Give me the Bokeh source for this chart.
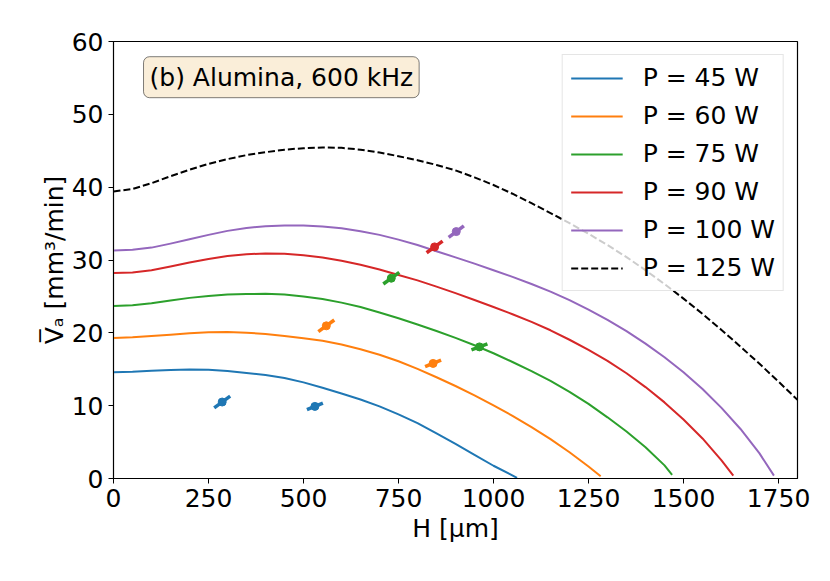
from bokeh.plotting import figure
from bokeh.models import Legend, LegendItem, Label, FixedTicker, Range1d
from bokeh.embed import file_html
from bokeh.resources import INLINE

# ---------------- data ----------------
labels = ["P = 45 W", "P = 60 W", "P = 75 W", "P = 90 W", "P = 100 W", "P = 125 W"]
colors = ["#1f77b4", "#ff7f0e", "#2ca02c", "#d62728", "#9467bd", "black"]

h45 = [0, 50, 100, 150, 200, 250, 300, 350, 400, 450, 500, 550, 600, 650, 700, 750, 800, 850, 900, 950, 1000, 1062]
v45 = [14.6, 14.65, 14.78, 14.9, 14.95, 14.92, 14.75, 14.5, 14.2, 13.8, 13.2, 12.45, 11.67, 10.85, 9.9, 8.8, 7.6, 6.2, 4.75, 3.25, 1.75, 0.1]

h60 = [0, 50, 100, 150, 200, 250, 300, 350, 400, 450, 500, 550, 600, 650, 700, 750, 800, 850, 900, 950, 1000, 1050, 1100, 1150, 1200, 1250, 1282]
v60 = [19.3, 19.38, 19.55, 19.75, 19.95, 20.07, 20.1, 20.02, 19.85, 19.58, 19.25, 18.9, 18.4, 17.75, 17.0, 16.1, 15.05, 13.9, 12.7, 11.42, 10.05, 8.6, 7.05, 5.4, 3.6, 1.65, 0.3]

h75 = [0, 50, 100, 150, 200, 250, 300, 350, 400, 450, 500, 550, 600, 650, 700, 750, 800, 850, 900, 950, 1000, 1050, 1100, 1150, 1200, 1250, 1300, 1350, 1400, 1450, 1470]
v75 = [23.7, 23.8, 24.05, 24.45, 24.8, 25.05, 25.25, 25.33, 25.35, 25.25, 25.0, 24.65, 24.15, 23.55, 22.8, 22.0, 21.15, 20.25, 19.3, 18.3, 17.2, 16.0, 14.75, 13.4, 11.9, 10.25, 8.4, 6.45, 4.3, 1.8, 0.5]

h90 = [0, 50, 100, 150, 200, 250, 300, 350, 400, 450, 500, 550, 600, 650, 700, 750, 800, 850, 900, 950, 1000, 1050, 1100, 1150, 1200, 1250, 1300, 1350, 1400, 1450, 1500, 1550, 1600, 1631]
v90 = [28.2, 28.3, 28.6, 29.1, 29.65, 30.15, 30.55, 30.8, 30.9, 30.85, 30.65, 30.35, 29.9, 29.35, 28.7, 27.95, 27.2, 26.35, 25.45, 24.5, 23.55, 22.55, 21.5, 20.35, 19.05, 17.65, 16.15, 14.45, 12.55, 10.45, 8.1, 5.5, 2.5, 0.4]

h100 = [0, 50, 100, 150, 200, 250, 300, 350, 400, 450, 500, 550, 600, 650, 700, 750, 800, 850, 900, 950, 1000, 1050, 1100, 1150, 1200, 1250, 1300, 1350, 1400, 1450, 1500, 1550, 1600, 1650, 1700, 1738]
v100 = [31.3, 31.4, 31.7, 32.25, 32.85, 33.45, 34.0, 34.4, 34.65, 34.75, 34.75, 34.6, 34.35, 33.95, 33.45, 32.8, 32.05, 31.2, 30.36, 29.5, 28.6, 27.68, 26.7, 25.65, 24.49, 23.2, 21.79, 20.23, 18.52, 16.65, 14.58, 12.28, 9.7, 6.8, 3.45, 0.4]

h125 = [0, 50, 100, 150, 200, 250, 300, 350, 400, 450, 500, 550, 600, 650, 700, 750, 800, 850, 900, 950, 1000, 1050, 1100, 1150, 1200, 1250, 1300, 1350, 1400, 1450, 1500, 1550, 1600, 1650, 1700, 1750, 1800]
v125 = [39.4, 39.75, 40.55, 41.5, 42.4, 43.2, 43.85, 44.4, 44.8, 45.15, 45.35, 45.45, 45.4, 45.15, 44.75, 44.25, 43.7, 43.05, 42.3, 41.35, 40.3, 39.1, 37.8, 36.45, 35.05, 33.6, 32.05, 30.4, 28.6, 26.7, 24.7, 22.6, 20.4, 18.1, 15.75, 13.3, 10.8]

curves_h = [h45, h60, h75, h90, h100, h125]
curves_v = [v45, v60, v75, v90, v100, v125]

# measured points with their (diagonal) error extents
pts_h = [[286, 530], [560, 841], [731, 963], [845], [902]]
pts_v = [[10.5, 9.9], [20.96, 15.8], [27.5, 18.07], [31.8], [33.9]]
err_h = [[21, 21], [21, 21], [21, 21], [21], [20]]
err_v = [[0.8, 0.45], [0.8, 0.45], [0.8, 0.42], [0.8], [0.8]]

title_text = "(b) Alumina, 600 kHz"
x_ticks = [0, 250, 500, 750, 1000, 1250, 1500, 1750]
y_ticks = [0, 10, 20, 30, 40, 50, 60]

FONT = "DejaVu Sans"

p = figure(width=814, height=565, x_range=Range1d(0, 1800), y_range=Range1d(0, 60),
           output_backend="svg", toolbar_location=None,
           min_border_left=113, min_border_top=41, min_border_right=17, min_border_bottom=87)

p.xgrid.visible = False
p.ygrid.visible = False
p.outline_line_color = "black"
p.outline_line_width = 1.2
p.background_fill_color = "white"
p.border_fill_color = "white"

for ax, ticks in ((p.xaxis, x_ticks), (p.yaxis, y_ticks)):
    ax.ticker = FixedTicker(ticks=ticks)
    ax.major_tick_out = 5
    ax.major_tick_in = 0
    ax.minor_tick_out = 0
    ax.minor_tick_in = 0
    ax.major_label_text_font = FONT
    ax.major_label_text_font_size = "25px"
    ax.major_label_text_color = "black"
    ax.axis_line_color = "black"
    ax.major_tick_line_color = "black"
    ax.major_label_standoff = 5
    ax.axis_label_text_font = FONT
    ax.axis_label_text_font_size = "25px"
    ax.axis_label_text_font_style = "normal"
    ax.axis_label_text_color = "black"

p.xaxis.axis_label = "H [μm]"
p.yaxis.axis_label = "V\u0305\u2090 [mm³/min]"
p.xaxis.axis_label_standoff = 4
p.yaxis.axis_label_standoff = 0

items = []
for i in range(6):
    dash = "7 3" if i == 5 else "solid"
    r = p.line(curves_h[i], curves_v[i], line_color=colors[i], line_width=2, line_dash=dash,
               line_join="round")
    items.append(LegendItem(label=labels[i], renderers=[r]))

for i in range(5):
    x0 = [a - b for a, b in zip(pts_h[i], err_h[i])]
    x1 = [a + b for a, b in zip(pts_h[i], err_h[i])]
    y0 = [a - b for a, b in zip(pts_v[i], err_v[i])]
    y1 = [a + b for a, b in zip(pts_v[i], err_v[i])]
    p.segment(x0=x0, y0=y0, x1=x1, y1=y1, line_color=colors[i], line_width=3.5)
    p.scatter(pts_h[i], pts_v[i], size=8, marker="circle", fill_color=colors[i], line_color=colors[i])

legend = Legend(items=items, location="top_right")
legend.margin = 13
legend.padding = 8
legend.spacing = 9
legend.label_text_font = FONT
legend.label_text_font_size = "25px"
legend.label_text_color = "black"
legend.label_height = 28
legend.glyph_height = 28
legend.glyph_width = 52
legend.label_standoff = 20
legend.border_line_color = "#cccccc"
legend.border_line_width = 1
legend.background_fill_color = "white"
legend.background_fill_alpha = 0.8
p.add_layout(legend)

title = Label(x=79, y=55.1, text=title_text, text_font=FONT, text_font_size="25px",
              text_baseline="middle", text_align="left", text_color="black",
              background_fill_color="wheat", background_fill_alpha=0.5,
              border_line_color="black", border_line_alpha=0.5, border_line_width=1,
              padding=6, border_radius=6)
p.add_layout(title)

open("out.html", "w").write(file_html(p, INLINE))
